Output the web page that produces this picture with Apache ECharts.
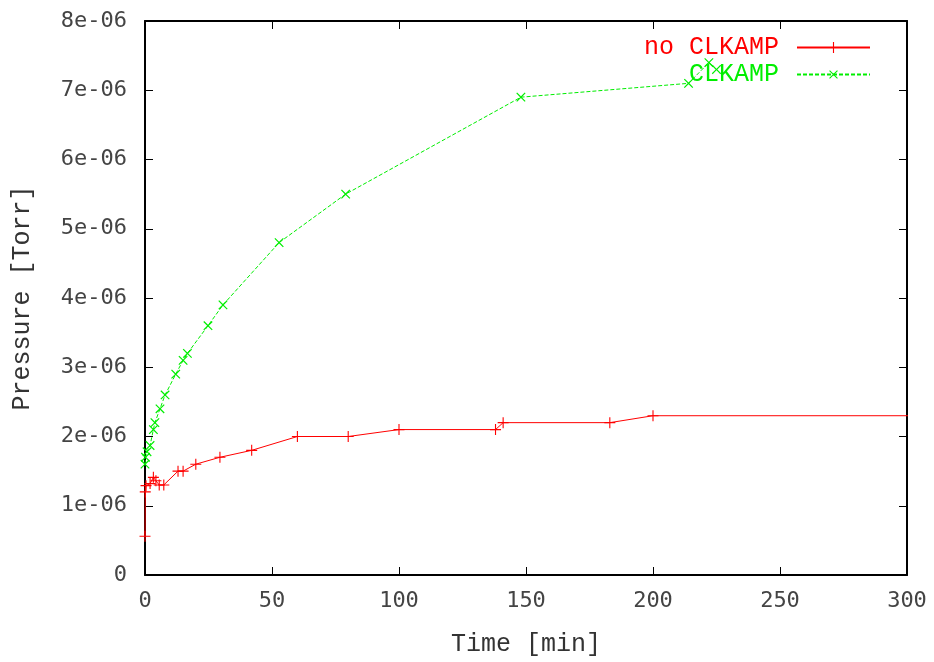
<!DOCTYPE html>
<html>
<head>
<meta charset="utf-8">
<script src="https://cdn.jsdelivr.net/npm/echarts@6/dist/echarts.min.js"></script>
<style>
  html, body { margin: 0; padding: 0; background: #fff; }
  #chart { width: 934px; height: 662px; }
</style>
</head>
<body>
<div id="chart"></div>
<script>
// pressure values are in units of 1e-06 Torr
const redName = 'no CLKAMP';
const redTime = [0, 0.1, 0.4, 2, 3.3, 4.3, 5.6, 7.4, 13, 15, 20, 29.5, 42, 60, 80, 100, 138, 141, 183, 200, 330];
const redPressure = [0.56, 1.2, 1.29, 1.32, 1.41, 1.36, 1.3, 1.3, 1.5, 1.5, 1.6, 1.7, 1.8, 2.0, 2.0, 2.1, 2.1, 2.2, 2.2, 2.3, 2.3];

const greenName = 'CLKAMP';
const greenTime = [0, 0.2, 0.8, 2, 3.3, 3.9, 5.9, 7.9, 12.1, 15, 16.7, 24.8, 30.7, 52.8, 79, 148, 214, 222, 225];
const greenPressure = [1.6, 1.7, 1.78, 1.87, 2.1, 2.2, 2.4, 2.6, 2.9, 3.1, 3.2, 3.6, 3.9, 4.8, 5.5, 6.9, 7.1, 7.4, 7.3];

const xTicks = [0, 50, 100, 150, 200, 250, 300];
const yTicks = [0, 1, 2, 3, 4, 5, 6, 7, 8];

const plus = 'path://M4.5,0H5.5V4.5H10V5.5H5.5V10H4.5V5.5H0V4.5H4.5Z';
const tickFont = 'DejaVu Sans Mono';
const nameFont = 'Liberation Mono';

function pairs(xs, ys) {
  return xs.map((x, i) => [x, ys[i]]);
}

let chart = echarts.init(document.getElementById('chart'));

let axisLine = { show: true, onZero: false, lineStyle: { color: '#000', width: 2 } };
let axisTick = { show: true, inside: true, length: 8, lineStyle: { color: '#000', width: 1 } };

let option = {
  animation: false,
  backgroundColor: '#fff',
  grid: { left: 145, right: 27, top: 21, bottom: 81 },
  legend: {
    orient: 'vertical',
    align: 'right',
    right: 58,
    top: 30,
    itemGap: 2,
    itemWidth: 73,
    itemHeight: 14,
    textStyle: { fontFamily: nameFont, fontSize: 25, padding: [0, 13, 0, 0] },
    data: [
      { name: redName, textStyle: { color: '#ff0000' } },
      { name: greenName, textStyle: { color: '#00ee00' } }
    ]
  },
  xAxis: [
    {
      type: 'value',
      min: xTicks[0],
      max: xTicks[xTicks.length - 1],
      interval: 50,
      name: 'Time [min]',
      nameLocation: 'middle',
      nameGap: 57,
      nameTextStyle: { fontFamily: nameFont, fontSize: 25, color: '#333' },
      axisLine: axisLine,
      axisTick: axisTick,
      splitLine: { show: false },
      axisLabel: { fontFamily: tickFont, fontSize: 22, color: '#444', margin: 15 }
    },
    {
      type: 'value',
      position: 'top',
      min: xTicks[0],
      max: xTicks[xTicks.length - 1],
      interval: 50,
      axisLine: axisLine,
      axisTick: axisTick,
      splitLine: { show: false },
      axisLabel: { show: false }
    }
  ],
  yAxis: [
    {
      type: 'value',
      min: yTicks[0],
      max: yTicks[yTicks.length - 1],
      interval: 1,
      name: 'Pressure [Torr]',
      nameLocation: 'middle',
      nameGap: 110,
      nameTextStyle: { fontFamily: nameFont, fontSize: 25, color: '#333' },
      axisLine: axisLine,
      axisTick: axisTick,
      splitLine: { show: false },
      axisLabel: {
        fontFamily: tickFont, fontSize: 22, color: '#444', margin: 18,
        formatter: function (v) {
          return v === 0 ? '0' : Math.round(v) + 'e-06';
        }
      }
    },
    {
      type: 'value',
      position: 'right',
      min: yTicks[0],
      max: yTicks[yTicks.length - 1],
      interval: 1,
      axisLine: axisLine,
      axisTick: axisTick,
      splitLine: { show: false },
      axisLabel: { show: false }
    }
  ],
  series: [
    {
      name: redName,
      type: 'line',
      xAxisIndex: 0,
      yAxisIndex: 0,
      clip: true,
      symbol: plus,
      symbolSize: 11,
      showAllSymbol: true,
      lineStyle: { color: '#ff0000', width: 1 },
      itemStyle: { color: '#ff0000' },
      data: pairs(redTime, redPressure)
    },
    {
      name: greenName,
      type: 'line',
      xAxisIndex: 0,
      yAxisIndex: 0,
      clip: true,
      symbol: plus,
      symbolRotate: 45,
      symbolSize: 12,
      showAllSymbol: true,
      lineStyle: { color: '#00ee00', width: 1, type: [4, 2] },
      itemStyle: { color: '#00ee00' },
      data: pairs(greenTime, greenPressure)
    }
  ]
};

option && chart.setOption(option, true);
</script>
</body>
</html>
